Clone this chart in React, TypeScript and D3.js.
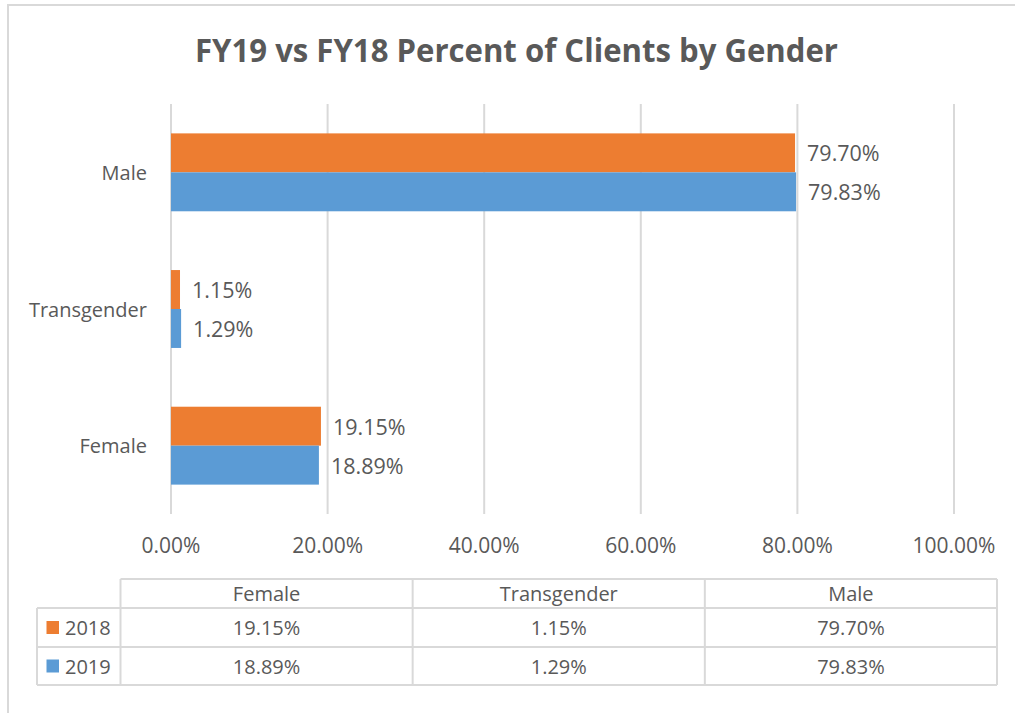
import React from "react";
import * as d3 from "d3";

const categories = ["Male", "Transgender", "Female"];
const tableCategories = ["Female", "Transgender", "Male"];
const seriesNames = ["2018", "2019"];
const values2018 = [79.7, 1.15, 19.15]; // Male, Transgender, Female
const values2019 = [79.83, 1.29, 18.89];
const xTicks = [0, 20, 40, 60, 80, 100];
const colors = ["#ED7D31", "#5B9BD5"];
const title = "FY19 vs FY18 Percent of Clients by Gender";

const W = 1015;
const H = 713;
const FONT = "'Open Sans', 'Noto Sans', sans-serif";
const TXT = "#595959";
const GRID = "#d9d9d9";

export default function App() {
  const x = d3.scaleLinear().domain([0, 100]).range([171, 954]);
  const y = d3
    .scaleBand<string>()
    .domain(categories)
    .range([104, 514])
    .paddingInner(0.43)
    .paddingOuter(0.215);
  const ySub = d3
    .scaleBand<string>()
    .domain(seriesNames)
    .range([0, y.bandwidth()]);
  const seriesValues = [values2018, values2019];
  const fmt = (v: number) => d3.format(".2f")(v) + "%";

  // table geometry
  const tLegendLeft = 37;
  const tLeft = 120.5;
  const tRight = 997;
  const colX = d3
    .scaleBand<string>()
    .domain(tableCategories)
    .range([tLeft, tRight]);
  const rowEdges = [579, 608, 647, 685];
  const lookup = (arr: number[], cat: string) => arr[categories.indexOf(cat)];

  return (
    <svg
      width={W}
      height={H}
      style={{ position: "absolute", left: 0, top: 0, background: "#fff" }}
    >
      <rect x={0} y={0} width={W} height={H} fill="#fff" />
      <rect
        x={8}
        y={5}
        width={W + 20}
        height={H + 20}
        fill="none"
        stroke={GRID}
        strokeWidth={2}
      />
      <text
        x={516.5}
        y={62}
        textAnchor="middle"
        fontFamily={FONT}
        fontWeight="bold"
        fontSize={32}
        fill={TXT}
        textLength={643}
        lengthAdjust="spacingAndGlyphs"
      >
        {title}
      </text>

      {/* gridlines */}
      {xTicks.map((t) => (
        <line
          key={"g" + t}
          x1={x(t)}
          x2={x(t)}
          y1={104}
          y2={514}
          stroke={GRID}
          strokeWidth={2}
        />
      ))}
      {xTicks.map((t) => (
        <text
          key={"t" + t}
          x={x(t)}
          y={553}
          textAnchor="middle"
          fontFamily={FONT}
          fontSize={21}
          fill={TXT}
        >
          {fmt(t)}
        </text>
      ))}

      {/* category labels */}
      {categories.map((c) => (
        <text
          key={"c" + c}
          x={147}
          y={(y(c) as number) + y.bandwidth() / 2}
          textAnchor="end"
          dominantBaseline="central"
          fontFamily={FONT}
          fontSize={20}
          fill={TXT}
        >
          {c}
        </text>
      ))}

      {/* bars */}
      {categories.map((c, ci) =>
        seriesNames.map((s, si) => {
          const v = seriesValues[si][ci];
          const by = (y(c) as number) + (ySub(s) as number);
          return (
            <g key={c + s}>
              <rect
                x={x(0)}
                y={by}
                width={x(v) - x(0)}
                height={ySub.bandwidth()}
                fill={colors[si]}
              />
              <text
                x={x(v) + 12}
                y={by + ySub.bandwidth() / 2}
                dominantBaseline="central"
                fontFamily={FONT}
                fontSize={21.5}
                fill={TXT}
              >
                {fmt(v)}
              </text>
            </g>
          );
        })
      )}

      {/* data table */}
      <g stroke={GRID} strokeWidth={2} fill="none">
        <line x1={tLeft} x2={tRight} y1={rowEdges[0]} y2={rowEdges[0]} />
        <line x1={tLegendLeft} x2={tRight} y1={rowEdges[1]} y2={rowEdges[1]} />
        <line x1={tLegendLeft} x2={tRight} y1={rowEdges[2]} y2={rowEdges[2]} />
        <line x1={tLegendLeft} x2={tRight} y1={rowEdges[3]} y2={rowEdges[3]} />
        <line x1={tLegendLeft} x2={tLegendLeft} y1={rowEdges[1]} y2={rowEdges[3]} />
        <line x1={tLeft} x2={tLeft} y1={rowEdges[0]} y2={rowEdges[3]} />
        {tableCategories.map((c) => {
          const xr = (colX(c) as number) + colX.bandwidth();
          return <line key={"tl" + c} x1={xr} x2={xr} y1={rowEdges[0]} y2={rowEdges[3]} />;
        })}
      </g>
      {tableCategories.map((c) => (
        <text
          key={"th" + c}
          x={(colX(c) as number) + colX.bandwidth() / 2}
          y={(rowEdges[0] + rowEdges[1]) / 2}
          textAnchor="middle"
          dominantBaseline="central"
          fontFamily={FONT}
          fontSize={20}
          fill={TXT}
        >
          {c}
        </text>
      ))}
      {seriesNames.map((s, si) => {
        const cy = (rowEdges[si + 1] + rowEdges[si + 2]) / 2;
        return (
          <g key={"row" + s}>
            <rect x={46.5} y={cy - 6.5} width={12.5} height={13} fill={colors[si]} />
            <text
              x={65}
              y={cy}
              dominantBaseline="central"
              fontFamily={FONT}
              fontSize={20}
              fill={TXT}
            >
              {s}
            </text>
            {tableCategories.map((c) => (
              <text
                key={"td" + s + c}
                x={(colX(c) as number) + colX.bandwidth() / 2}
                y={cy}
                textAnchor="middle"
                dominantBaseline="central"
                fontFamily={FONT}
                fontSize={20}
                fill={TXT}
              >
                {fmt(lookup(seriesValues[si], c))}
              </text>
            ))}
          </g>
        );
      })}
    </svg>
  );
}
